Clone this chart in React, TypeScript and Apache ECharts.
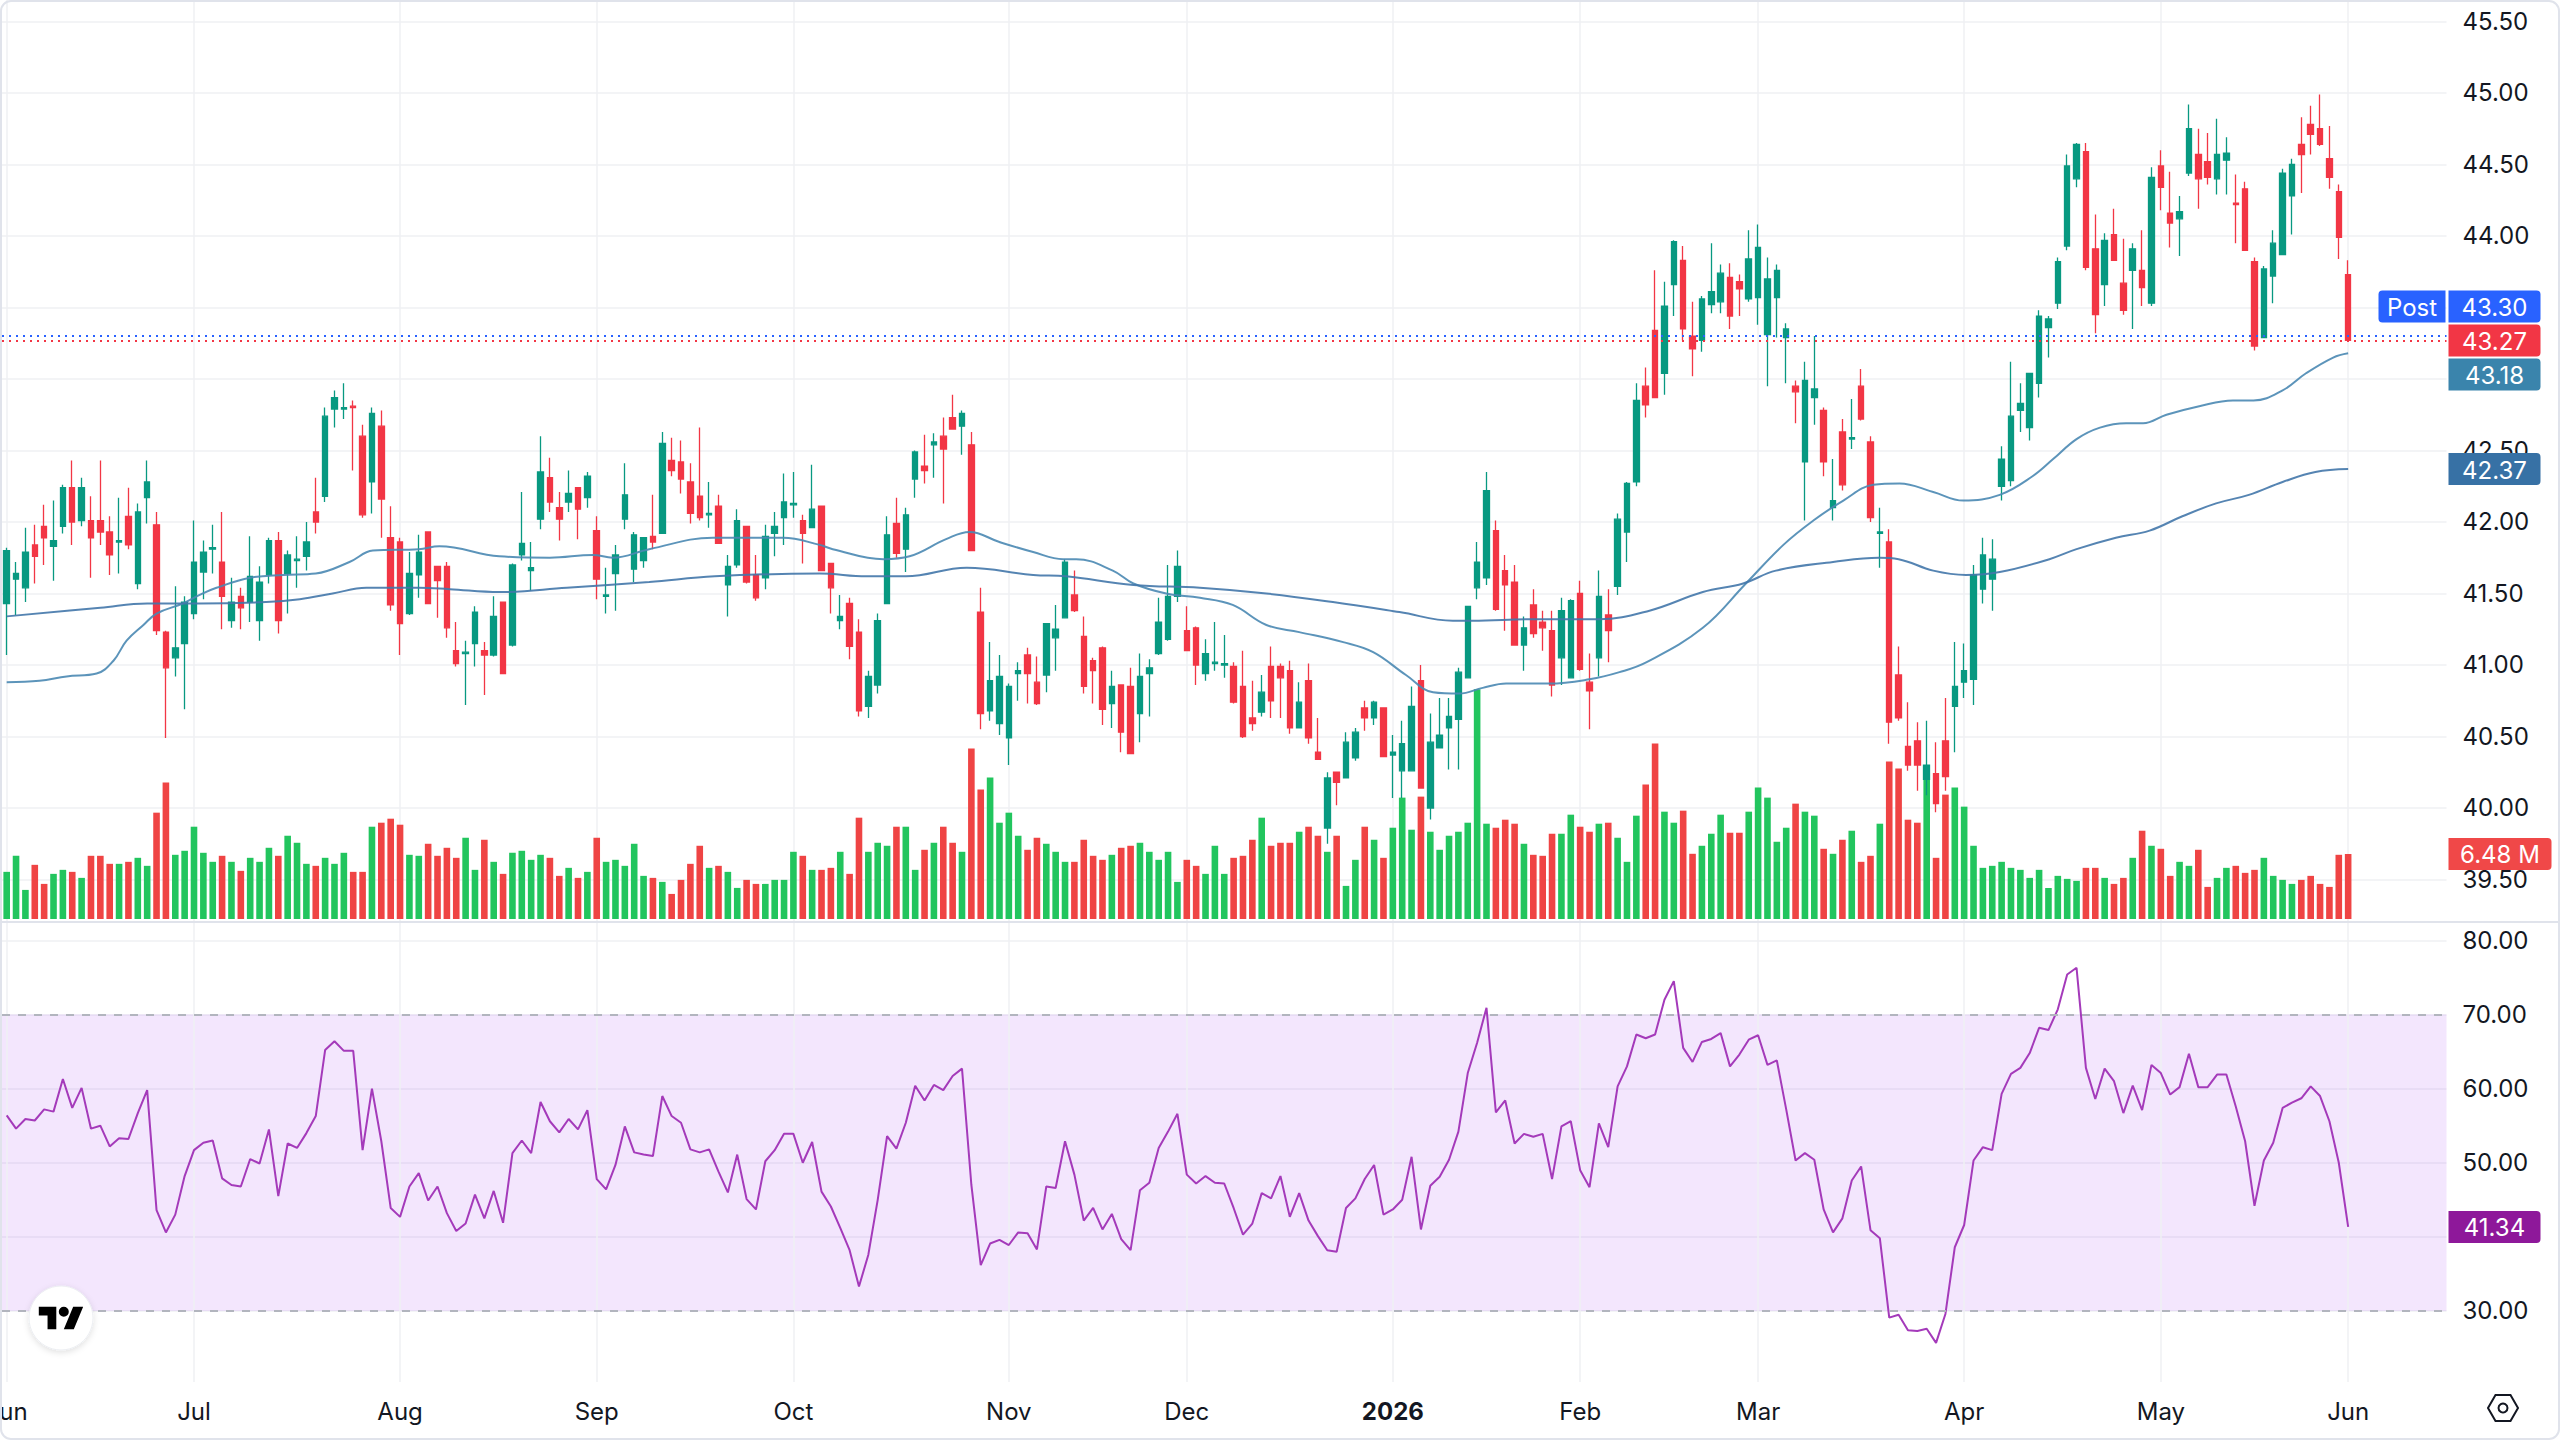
import React, { useEffect, useRef } from 'react';
import * as echarts from 'echarts';

// ---------- data ----------
const opens = [
  41.43,41.60,41.54,41.84,41.97,41.83,41.97,42.24,42.01,42.01,
  42.01,41.93,41.86,42.04,41.57,42.17,41.98,41.23,41.05,41.15,
  41.36,41.65,41.81,41.72,41.31,41.48,41.44,41.31,41.63,41.87,
  41.64,41.73,41.76,42.07,42.18,42.79,42.79,42.81,42.60,42.28,
  42.67,41.89,41.86,41.36,41.63,41.93,41.69,41.69,41.10,41.08,
  41.15,41.10,41.07,41.44,41.14,41.77,41.66,42.02,42.31,42.10,
  42.14,42.24,42.17,41.94,41.48,41.64,42.02,41.67,41.73,41.90,
  41.92,42.43,42.42,42.28,42.18,42.05,42.11,41.56,41.70,41.97,
  41.63,41.61,41.92,42.03,42.12,42.01,41.96,42.11,41.71,41.31,
  41.43,41.23,40.71,40.86,41.43,41.99,41.81,42.30,42.39,42.54,
  42.60,42.73,42.67,42.54,41.37,40.68,40.59,40.49,40.94,41.07,
  40.88,40.93,41.19,41.33,41.49,41.20,41.03,41.12,40.73,40.86,
  40.85,40.66,40.94,41.08,41.18,41.48,41.24,41.26,40.94,41.01,
  41.00,40.99,40.85,40.63,40.67,40.99,40.99,40.96,40.56,40.89,
  40.39,39.86,40.25,40.21,40.35,40.70,40.63,40.70,40.37,40.26,
  40.26,40.89,40.00,40.42,40.56,40.62,40.91,41.54,41.61,41.94,
  41.66,41.58,41.14,41.42,41.30,41.24,41.05,40.91,41.50,40.88,
  41.05,41.35,41.55,41.93,42.28,42.95,43.34,43.04,43.66,43.83,
  43.30,43.27,43.52,43.54,43.71,43.68,43.56,43.57,43.31,43.57,
  43.29,42.95,42.42,42.87,42.78,42.10,42.63,42.58,42.95,42.56,
  41.92,41.86,40.93,40.43,40.47,40.20,40.24,40.47,40.71,40.88,
  40.90,41.53,41.60,42.25,42.29,42.78,42.66,42.97,43.36,43.53,
  43.93,44.40,44.59,43.91,43.66,44.01,43.67,43.76,43.76,43.53,
  44.49,44.16,44.12,44.44,44.57,44.52,44.40,44.53,44.23,44.33,
  43.82,43.29,43.72,43.87,44.28,44.64,44.78,44.75,44.54,44.31,
  43.73,
];
const closes = [
  41.80,41.64,41.79,41.76,41.89,41.87,42.24,42.00,42.24,41.89,
  41.93,41.77,41.87,41.84,42.07,42.28,41.24,40.98,41.12,41.44,
  41.72,41.79,41.82,41.48,41.44,41.40,41.62,41.58,41.87,41.31,
  41.77,41.74,41.86,42.00,42.74,42.87,42.80,42.80,42.05,42.76,
  42.16,41.42,41.29,41.64,41.79,41.43,41.59,41.26,41.01,41.09,
  41.37,41.07,41.34,40.94,41.70,41.85,41.68,42.35,42.14,42.02,
  42.20,42.09,42.32,41.60,41.49,41.77,42.19,41.91,41.89,41.86,
  42.55,42.36,42.30,42.06,42.03,42.06,41.85,41.69,42.01,41.58,
  41.47,41.90,41.97,42.14,42.13,41.92,42.09,41.66,41.54,41.34,
  41.13,40.68,40.92,41.31,41.91,41.78,42.05,42.49,42.36,42.56,
  42.51,42.65,42.76,41.80,40.66,40.89,40.92,40.85,40.96,40.94,
  40.73,41.29,41.25,41.72,41.38,40.85,40.96,40.69,40.85,40.53,
  40.38,40.92,40.98,41.30,41.48,41.69,41.10,41.00,41.08,41.02,
  41.01,40.74,40.50,40.59,40.81,40.75,40.91,40.56,40.74,40.49,
  40.34,40.21,40.18,40.46,40.53,40.63,40.74,40.36,40.39,40.45,
  40.71,40.14,40.46,40.51,40.64,40.95,41.41,41.72,42.22,41.39,
  41.56,41.14,41.26,41.22,41.26,40.86,41.38,41.45,40.97,40.82,
  41.48,41.24,42.02,42.27,42.85,42.82,42.87,43.51,43.96,43.35,
  43.21,43.56,43.61,43.74,43.44,43.63,43.84,43.92,43.70,43.76,
  43.35,42.91,42.99,42.93,42.42,42.15,42.26,42.59,42.72,42.03,
  41.93,40.60,40.63,40.30,40.30,40.30,40.03,40.22,40.85,40.96,
  41.63,41.77,41.74,42.44,42.74,42.83,43.04,43.44,43.42,43.82,
  44.49,44.64,43.78,43.45,43.97,43.83,43.48,43.91,43.64,44.41,
  44.34,44.09,44.17,44.75,44.40,44.41,44.57,44.58,44.22,43.90,
  43.23,43.77,43.95,44.44,44.50,44.57,44.71,44.64,44.41,43.99,
  43.27,
];
const highs = [
  41.82,41.72,41.96,41.98,42.12,42.15,42.26,42.43,42.31,42.18,
  42.43,42.04,42.17,42.24,42.13,42.43,42.07,41.24,41.55,41.48,
  42.01,41.87,41.98,42.07,41.61,41.54,41.90,41.69,41.89,41.93,
  41.80,41.90,42.00,42.31,42.80,42.92,42.97,42.85,42.68,42.80,
  42.78,42.11,41.89,41.79,41.91,41.93,41.69,41.72,41.30,41.17,
  41.41,41.16,41.48,41.44,41.71,42.21,41.86,42.60,42.45,42.21,
  42.36,42.24,42.35,42.04,41.68,41.84,42.41,41.93,41.89,42.19,
  42.63,42.59,42.57,42.41,42.66,42.28,42.19,41.77,42.09,41.97,
  41.77,41.98,42.07,42.34,42.35,42.05,42.40,42.11,41.71,41.49,
  41.47,41.32,40.96,41.36,42.04,42.17,42.10,42.50,42.61,42.62,
  42.73,42.89,42.78,42.63,41.54,41.16,41.07,40.87,41.02,41.12,
  41.06,41.29,41.42,41.74,41.66,41.34,41.05,41.13,40.96,40.86,
  40.98,41.08,41.04,41.47,41.70,41.80,41.41,41.27,41.18,41.30,
  41.21,41.02,41.10,40.89,40.93,41.13,41.01,41.03,40.88,41.01,
  40.63,40.25,40.25,40.53,40.56,40.75,40.75,40.70,40.51,40.61,
  40.85,41.00,40.66,40.77,40.77,40.98,41.41,41.86,42.35,42.01,
  41.77,41.70,41.34,41.53,41.38,41.38,41.47,41.46,41.59,41.08,
  41.66,41.53,42.06,42.28,42.97,43.08,43.76,43.68,43.97,43.93,
  43.54,43.58,43.95,43.80,43.81,43.73,44.04,44.08,43.85,43.80,
  43.39,42.99,43.12,43.30,42.80,42.44,42.72,42.86,43.07,42.60,
  42.10,41.95,41.13,40.74,40.60,40.61,40.46,40.77,41.16,41.15,
  41.70,41.89,41.88,42.53,43.12,42.97,43.04,43.48,43.44,43.85,
  44.57,44.65,44.65,44.15,44.02,44.19,43.98,43.95,44.04,44.48,
  44.60,44.45,44.28,44.92,44.75,44.72,44.82,44.69,44.43,44.38,
  43.85,43.79,44.04,44.47,44.54,44.83,44.91,44.99,44.77,44.36,
  43.83,
];
const lows = [
  41.07,41.35,41.44,41.57,41.70,41.59,41.92,41.84,41.97,41.61,
  41.84,41.63,41.64,41.81,41.53,41.99,41.21,40.49,40.92,40.69,
  41.32,41.46,41.64,41.25,41.26,41.25,41.30,41.17,41.57,41.22,
  41.36,41.54,41.66,41.92,42.14,42.66,42.72,42.36,42.03,42.06,
  41.89,41.38,41.07,41.35,41.47,41.43,41.33,41.19,40.99,40.72,
  40.99,40.79,41.06,40.94,41.13,41.73,41.52,41.95,42.07,41.87,
  42.07,41.88,42.10,41.46,41.36,41.38,41.95,41.58,41.68,41.81,
  41.92,42.32,42.20,41.99,42.01,41.96,41.85,41.34,41.68,41.57,
  41.45,41.53,41.76,41.84,42.03,41.71,41.96,41.66,41.36,41.25,
  41.04,40.64,40.63,40.80,41.43,41.75,41.65,42.17,42.27,42.31,
  42.13,42.65,42.47,41.80,40.55,40.61,40.51,40.30,40.75,40.73,
  40.72,40.81,40.96,41.33,41.37,40.80,40.73,40.58,40.56,40.39,
  40.38,40.46,40.64,41.07,41.17,41.44,41.10,40.86,40.89,40.96,
  40.91,40.73,40.49,40.54,40.64,40.63,40.63,40.52,40.56,40.45,
  40.34,39.75,40.02,40.21,40.33,40.54,40.58,40.36,40.07,40.07,
  40.26,40.14,39.92,40.42,40.27,40.27,40.91,41.46,41.56,41.38,
  41.24,41.14,40.96,41.19,41.10,40.78,40.86,40.91,40.96,40.55,
  40.92,41.02,41.49,41.72,42.25,42.73,42.87,42.89,43.44,43.27,
  43.02,43.19,43.46,43.46,43.35,43.44,43.54,43.38,42.95,43.29,
  42.97,42.69,42.01,42.68,42.32,42.01,42.22,42.51,42.71,42.00,
  41.68,40.45,40.61,40.26,40.12,40.09,39.97,40.12,40.39,40.77,
  40.72,41.43,41.38,42.15,42.25,42.63,42.57,42.87,43.15,43.49,
  43.90,44.34,43.76,43.32,43.51,43.83,43.45,43.35,43.51,43.51,
  44.18,43.92,43.86,44.42,44.19,44.36,44.29,44.29,43.95,43.90,
  43.20,43.29,43.53,43.87,44.01,44.30,44.57,44.63,44.33,43.84,
  43.27,
];
// volume in millions
const volumes = [
  4.7,6.3,2.9,5.4,3.5,4.5,4.9,4.7,4.1,6.3,
  6.3,5.5,5.5,5.7,6.1,5.3,10.6,13.6,6.4,6.8,
  9.2,6.6,5.7,6.3,5.7,4.8,6.1,5.7,7.1,6.3,
  8.3,7.6,5.5,5.3,6.1,5.5,6.6,4.7,4.7,9.2,
  9.6,10.0,9.4,6.4,6.3,7.5,6.3,7.1,6.1,8.1,
  4.9,7.9,5.7,4.5,6.6,6.8,5.9,6.4,6.1,4.3,
  5.1,4.1,4.7,8.1,5.7,5.9,5.3,7.5,4.3,4.1,
  3.7,2.5,3.9,5.5,7.3,5.1,5.3,4.7,3.1,3.9,
  3.5,3.5,3.9,3.9,6.7,6.3,4.9,4.9,5.1,6.7,
  4.5,10.1,6.7,7.6,7.3,9.2,9.2,4.9,6.9,7.6,
  9.2,7.6,6.7,17.0,12.9,14.1,9.6,10.6,8.3,6.9,
  8.1,7.5,6.7,5.7,5.7,7.9,6.3,5.9,6.4,7.1,
  7.3,7.6,6.7,5.9,6.7,3.7,5.9,5.3,4.5,7.3,
  4.5,6.1,6.3,7.9,10.1,7.3,7.6,7.6,8.7,9.2,
  8.3,6.7,8.3,3.3,5.9,9.2,7.9,6.1,9.1,12.1,
  8.9,12.2,8.7,6.9,8.3,8.7,9.6,22.9,9.5,9.1,
  9.9,9.5,7.5,6.4,6.3,8.5,8.5,10.4,9.2,8.7,
  9.5,9.6,8.1,5.7,10.3,13.4,17.5,10.7,9.6,10.8,
  6.5,7.3,8.5,10.4,8.6,8.6,10.7,13.1,12.1,7.7,
  9.1,11.5,10.7,10.3,7.0,6.5,7.9,8.8,5.7,6.3,
  9.5,15.7,15.0,9.9,9.6,15.0,6.1,12.4,13.1,11.2,
  7.3,5.1,5.3,5.7,5.1,4.9,4.1,4.9,3.1,4.3,
  4.0,3.8,5.1,5.1,4.1,3.5,4.1,6.1,8.8,7.3,
  7.0,4.3,5.7,5.3,6.9,3.2,4.1,5.1,5.3,4.6,
  4.9,6.1,4.3,3.9,3.5,3.9,4.3,3.5,3.2,6.4,
  6.48,
];
const rsiValues = [
  56.4,54.6,55.9,55.7,57.2,56.9,61.3,57.4,60.1,54.6,
  55.0,52.2,53.3,53.2,56.7,59.8,43.6,40.6,43.0,48.2,
  51.7,52.7,53.0,47.9,47.0,46.8,50.5,49.9,54.5,45.5,
  52.6,52.0,54.0,56.3,65.2,66.4,65.1,65.1,51.7,60.0,
  52.9,43.9,42.7,46.8,48.6,44.9,46.8,43.2,40.8,41.8,
  45.7,42.5,46.2,41.9,51.3,53.0,51.3,58.2,55.6,54.1,
  55.9,54.5,57.1,47.8,46.4,49.7,54.9,51.4,51.1,50.9,
  59.0,56.3,55.4,51.8,51.4,51.8,48.8,46.0,51.1,45.1,
  43.7,50.2,51.7,53.9,53.9,50.0,52.8,46.1,44.1,41.2,
  38.2,33.3,37.6,45.0,53.6,51.9,55.4,60.4,58.4,60.5,
  59.8,61.7,62.7,47.0,36.2,39.1,39.6,38.9,40.6,40.5,
  38.3,46.8,46.6,52.9,48.4,42.2,43.9,41.0,43.1,39.7,
  38.2,46.3,47.3,52.0,54.2,56.6,48.4,47.2,48.2,47.3,
  47.2,43.9,40.3,41.8,45.9,45.2,48.2,42.7,45.9,42.2,
  40.1,38.2,38.0,43.9,45.2,47.8,49.7,43.0,43.7,45.0,
  50.8,41.0,46.9,48.1,50.4,54.2,62.1,66.2,70.9,56.8,
  58.4,52.6,53.9,53.5,53.9,47.8,54.9,55.6,49.0,46.7,
  55.3,52.1,60.3,63.0,67.3,66.8,67.3,72.0,74.5,65.5,
  63.6,66.3,66.7,67.5,63.0,64.6,66.6,67.2,63.2,63.8,
  57.2,50.3,51.3,50.4,43.7,40.6,42.5,47.6,49.5,40.9,
  39.8,29.1,29.5,27.4,27.3,27.6,25.7,29.6,38.6,41.6,
  50.3,52.1,51.7,59.3,62.0,62.8,64.8,68.2,67.9,70.7,
  75.4,76.3,62.8,58.6,62.7,61.0,56.7,60.4,57.1,63.2,
  62.1,59.2,60.2,64.7,60.2,60.2,61.9,61.9,57.6,52.9,
  44.2,50.3,52.7,57.4,58.1,58.7,60.3,59.0,55.6,50.0,
  41.34,
];
// moving averages, read at sample positions [bar index, value]
const maFastPoints = [
  [0, 40.88], [3.5, 40.89], [6.4, 40.92], [9.6, 40.94], [11.4, 41.03], [12.8, 41.17],
  [14.6, 41.28], [16, 41.36], [18.8, 41.43], [20.6, 41.49], [22.4, 41.54], [26, 41.61],
  [29.5, 41.63], [33, 41.64], [36.6, 41.72], [39.1, 41.80], [44, 41.81], [46.2, 41.83],
  [52.6, 41.76], [58, 41.75], [62.6, 41.77], [64.7, 41.75], [68.6, 41.81], [75.4, 41.89],
  [82.9, 41.89], [86.8, 41.84], [88.2, 41.81], [93.6, 41.74], [96.4, 41.76], [100.3, 41.88],
  [102.8, 41.93], [106, 41.86], [109.6, 41.79], [112.8, 41.74], [114.2, 41.74], [118.1, 41.66],
  [120.3, 41.57], [123.8, 41.50], [127.4, 41.47], [130.9, 41.42], [134.5, 41.28], [138, 41.23],
  [142.7, 41.16], [145.9, 41.09], [149.4, 40.93], [152.3, 40.81], [155.1, 40.80], [157.6, 40.84],
  [160.1, 40.87], [164.7, 40.87], [169, 40.90], [172.2, 40.95], [175.1, 41.02], [181.1, 41.26],
  [185.7, 41.57], [189.7, 41.84], [192.9, 42.01], [196.1, 42.15], [199.3, 42.26], [202.1, 42.27],
  [205.7, 42.21], [208.9, 42.15], [212.8, 42.19], [216.3, 42.32], [218.5, 42.44], [221, 42.58],
  [223.5, 42.66], [226.3, 42.69], [228.1, 42.69], [230.6, 42.75], [234.1, 42.81], [237.7, 42.85],
  [239.9, 42.85], [243, 42.92], [245.5, 43.04], [248.4, 43.15], [250, 43.18],
];
const maSlowPoints = [
  [0, 41.34], [10, 41.40], [15, 41.43], [20.6, 41.43], [27.7, 41.44], [31.3, 41.46],
  [34.8, 41.50], [38.4, 41.54], [44, 41.54], [47.3, 41.53], [52.6, 41.51], [59.8, 41.54],
  [68.6, 41.58], [75.6, 41.62], [86.8, 41.64], [91.8, 41.62], [96, 41.62], [102.5, 41.68],
  [109.6, 41.63], [113.1, 41.62], [120.3, 41.56], [127.4, 41.54], [134.5, 41.50], [141.6, 41.44],
  [148.7, 41.37], [154.4, 41.31], [156.5, 41.31], [162.9, 41.32], [170, 41.32], [175.4, 41.38],
  [181.1, 41.51], [185.4, 41.57], [188.9, 41.66], [195, 41.72], [199.9, 41.75], [202, 41.74],
  [205.7, 41.66], [209.2, 41.63], [212.8, 41.65], [218.1, 41.74], [221, 41.81], [225.2, 41.89],
  [228.8, 41.94], [232.3, 42.04], [235.9, 42.13], [239.4, 42.19], [243, 42.28], [246.5, 42.35],
  [250, 42.37],
];
const monthStarts = [0, 20, 42, 63, 84, 107, 126, 148, 168, 187, 209, 230, 250];
const monthLabels = ['Jun', 'Jul', 'Aug', 'Sep', 'Oct', 'Nov', 'Dec', '2026', 'Feb', 'Mar', 'Apr', 'May', 'Jun'];
const hiddenPriceLabels = [43.0, 43.5];
const hiddenRsiLabels = [40];
const postPrice = 43.30;
const lastPrice = 43.27;
const maFastLast = 43.18;
const maSlowLast = 42.37;
const lastVolume = 6.48;
const lastVolumeText = '6.48 M';
const rsiLast = 41.34;

// ---------- layout / style ----------
const FONT = 'Inter, "Noto Sans", sans-serif';
const SLOTS = 261;
const GRID_LEFT = 2;
const GRID_W = 2444.5;
const GRID_RIGHT_X = GRID_LEFT + GRID_W;
const UP = '#089981';
const DOWN = '#f23645';
const VOL_UP = '#22c55e';
const VOL_DOWN = '#ef4444';
const GRID_COLOR = '#eff0f3';
const TEXT = '#131722';

echarts.graphic.registerShape(
  'tvLogo',
  echarts.graphic.extendPath('M14 22H7V11H0V4h14v18zM28 22h-8l7.5-18h8L28 22zM24 8a4 4 0 1 1-8 0a4 4 0 1 1 8 0z', {})
);

function buildOption() {
  const cats = Array.from({ length: SLOTS }, (_, i) => String(i));
  const candleData = opens.map((o, i) => [o, closes[i], lows[i], highs[i]]);
  const volData = volumes.map((v, i) => ({
    value: v,
    itemStyle: { color: closes[i] >= opens[i] ? VOL_UP : VOL_DOWN },
  }));
  const axisLabelBase = { fontSize: 24, fontFamily: FONT, color: TEXT };
  const monthLine = (xIdx: number, yIdx: number) => ({
    type: 'line', xAxisIndex: xIdx, yAxisIndex: yIdx, data: [], silent: true,
    markLine: {
      z: 1, silent: true, symbol: ['none', 'none'], label: { show: false },
      lineStyle: { color: GRID_COLOR, width: 1.5, type: 'solid' },
      data: monthStarts.map((m) => ({ xAxis: m })),
    },
  });
  const gridBase = { left: GRID_LEFT, width: GRID_W, containLabel: false, outerBoundsMode: 'none' };
  return {
    animation: false,
    backgroundColor: '#ffffff',
    grid: [
      { ...gridBase, top: 0, height: 922 },
      { ...gridBase, top: 599, height: 320 },
      { ...gridBase, top: 922, height: 460 },
    ],
    xAxis: [
      { type: 'category', gridIndex: 0, data: cats, show: false },
      { type: 'value', gridIndex: 0, min: -0.5, max: SLOTS - 0.5, show: false },
      { type: 'category', gridIndex: 1, data: cats, show: false },
      {
        type: 'category', gridIndex: 2, data: cats,
        axisLine: { show: false }, axisTick: { show: false }, splitLine: { show: false },
        axisLabel: {
          ...axisLabelBase, margin: 17, align: 'center',
          interval: (idx: number) => monthStarts.includes(idx),
          formatter: (_v: string, idx: number) => {
            const k = monthStarts.indexOf(idx);
            const t = k >= 0 ? monthLabels[k] : '';
            return t === '2026' ? `{b|${t}}` : t;
          },
          rich: { b: { fontWeight: 'bold', fontSize: 24, fontFamily: FONT, color: TEXT } },
        },
      },
      { type: 'value', gridIndex: 2, min: -0.5, max: SLOTS - 0.5, show: false },
    ],
    yAxis: [
      {
        type: 'value', gridIndex: 0, position: 'right', min: 39.2028, max: 45.6503,
        splitNumber: 13, minInterval: 0.5, maxInterval: 0.5,
        axisLine: { show: false }, axisTick: { show: false },
        splitLine: { lineStyle: { color: GRID_COLOR, width: 1.5 }, showMinLine: false, showMaxLine: false },
        axisLabel: {
          ...axisLabelBase, margin: 16, showMinLabel: false, showMaxLabel: false,
          formatter: (v: number) => {
            if (Math.abs(v * 2 - Math.round(v * 2)) > 1e-6) return '';
            if (hiddenPriceLabels.some((h) => Math.abs(h - v) < 1e-6)) return '';
            return v.toFixed(2);
          },
        },
      },
      { type: 'value', gridIndex: 1, min: 0, max: 31.9, show: false },
      {
        type: 'value', gridIndex: 2, position: 'right', min: 20.42, max: 82.48,
        splitNumber: 6, minInterval: 10, maxInterval: 10,
        axisLine: { show: false }, axisTick: { show: false },
        splitLine: { lineStyle: { color: GRID_COLOR, width: 1.5 }, showMinLine: false, showMaxLine: false },
        axisLabel: {
          ...axisLabelBase, margin: 16, showMinLabel: false, showMaxLabel: false,
          formatter: (v: number) => {
            if (Math.abs(v / 10 - Math.round(v / 10)) > 1e-6) return '';
            if (hiddenRsiLabels.some((h) => Math.abs(h - v) < 1e-6)) return '';
            return v.toFixed(2);
          },
        },
      },
    ],
    series: [
      monthLine(1, 0),
      monthLine(4, 2),
      {
        type: 'bar', name: 'Volume', xAxisIndex: 2, yAxisIndex: 1, data: volData,
        barWidth: 6.6, z: 1, silent: true,
      },
      {
        type: 'candlestick', name: 'Price', xAxisIndex: 0, yAxisIndex: 0, data: candleData,
        barWidth: 6, z: 3,
        itemStyle: { color: UP, color0: DOWN, borderColor: UP, borderColor0: DOWN, borderWidth: 1.3 },
        markLine: {
          silent: true, symbol: ['none', 'none'], label: { show: false },
          data: [
            { yAxis: postPrice, lineStyle: { color: '#2962ff', type: [2, 5], width: 2 } },
            { yAxis: lastPrice, lineStyle: { color: DOWN, type: [2, 5], width: 2 } },
          ],
        },
      },
      {
        type: 'line', name: 'MA fast', xAxisIndex: 1, yAxisIndex: 0, data: maFastPoints,
        smooth: 0.4, showSymbol: false, z: 4, silent: true,
        lineStyle: { color: '#4a88b2', width: 2, opacity: 0.9 },
      },
      {
        type: 'line', name: 'MA slow', xAxisIndex: 1, yAxisIndex: 0, data: maSlowPoints,
        smooth: 0.4, showSymbol: false, z: 4, silent: true,
        lineStyle: { color: '#4277aa', width: 2, opacity: 0.9 },
      },
      {
        type: 'line', name: 'RSI', xAxisIndex: 4, yAxisIndex: 2,
        data: rsiValues.map((v, i) => [i, v]),
        showSymbol: false, z: 4, silent: true,
        lineStyle: { color: '#a43aba', width: 2 },
        markArea: {
          silent: true,
          itemStyle: { color: 'rgba(170, 80, 240, 0.14)' },
          data: [[{ yAxis: 70 }, { yAxis: 30 }]],
        },
        markLine: {
          silent: true, symbol: ['none', 'none'], label: { show: false },
          lineStyle: { color: '#b2b5be', type: [8, 8], width: 2 },
          data: [{ yAxis: 70 }, { yAxis: 30 }],
        },
      },
    ],
  };
}

function box(text: string, x: number, cy: number, w: number, fill: string, r: any = [0, 4, 4, 0]) {
  const h = 32;
  return [
    { type: 'rect', z: 100, shape: { x, y: cy - h / 2, width: w, height: h, r }, style: { fill } },
    {
      type: 'text', z: 101, x: x + w / 2, y: cy + 1,
      style: { text, fill: '#ffffff', font: `24px ${FONT}`, textAlign: 'center', textVerticalAlign: 'middle' },
    },
  ];
}

function buildGraphics(chart: any) {
  const py = (axis: number, v: number) => chart.convertToPixel({ yAxisIndex: axis }, v) as number;
  const bx = GRID_RIGHT_X + 2;
  const bw = 92;
  const yLast = py(0, lastPrice);
  const yPost = Math.min(py(0, postPrice), yLast - 34);
  const yFast = Math.max(py(0, maFastLast), yLast + 34);
  const ySlow = py(0, maSlowLast);
  const yVol = py(1, lastVolume);
  const yRsi = py(2, rsiLast);
  return [
    {
      type: 'rect', z: 200, silent: true,
      shape: { x: 1, y: 1, width: 2558, height: 1438, r: 10 },
      style: { fill: 'none', stroke: '#e0e3eb', lineWidth: 2 },
    },
    {
      type: 'line', z: 50, silent: true,
      shape: { x1: 0, y1: 922, x2: 2560, y2: 922 },
      style: { stroke: '#e0e3eb', lineWidth: 2 },
    },
    ...box('Post', GRID_RIGHT_X - 68, yPost, 67, '#2962ff', [4, 0, 0, 4]),
    ...box(postPrice.toFixed(2), bx, yPost, bw, '#2962ff'),
    ...box(lastPrice.toFixed(2), bx, yLast, bw, DOWN),
    ...box(maFastLast.toFixed(2), bx, yFast, bw, '#3a84ac'),
    ...box(maSlowLast.toFixed(2), bx, ySlow, bw, '#3771a5'),
    ...box(lastVolumeText, bx, yVol, 103, '#f04848'),
    ...box(rsiLast.toFixed(2), bx, yRsi, bw, '#8e189a'),
    {
      type: 'circle', z: 120, shape: { cx: 61, cy: 1318, r: 32 },
      style: { fill: '#ffffff', stroke: '#eceef2', lineWidth: 1, shadowBlur: 6, shadowColor: 'rgba(0,0,0,0.12)', shadowOffsetY: 2 },
    },
    { type: 'tvLogo', z: 121, x: 38.8, y: 1301.7, scaleX: 1.25, scaleY: 1.25, style: { fill: '#000000' } },
    {
      type: 'polygon', z: 120,
      shape: { points: [[2488, 1408], [2495.5, 1395], [2510.5, 1395], [2518, 1408], [2510.5, 1421], [2495.5, 1421]] },
      style: { fill: 'none', stroke: TEXT, lineWidth: 2 },
    },
    { type: 'circle', z: 120, shape: { cx: 2503, cy: 1408, r: 4.5 }, style: { fill: 'none', stroke: TEXT, lineWidth: 2 } },
  ];
}

export default function App() {
  const ref = useRef<HTMLDivElement>(null);
  useEffect(() => {
    if (!ref.current) return;
    const chart = echarts.init(ref.current, null, { renderer: 'svg' });
    chart.setOption(buildOption() as any);
    chart.setOption({ graphic: buildGraphics(chart) } as any);
    return () => chart.dispose();
  }, []);
  return (
    <div
      ref={ref}
      style={{ position: 'fixed', left: 0, top: 0, width: 2560, height: 1440, background: '#ffffff' }}
    />
  );
}
